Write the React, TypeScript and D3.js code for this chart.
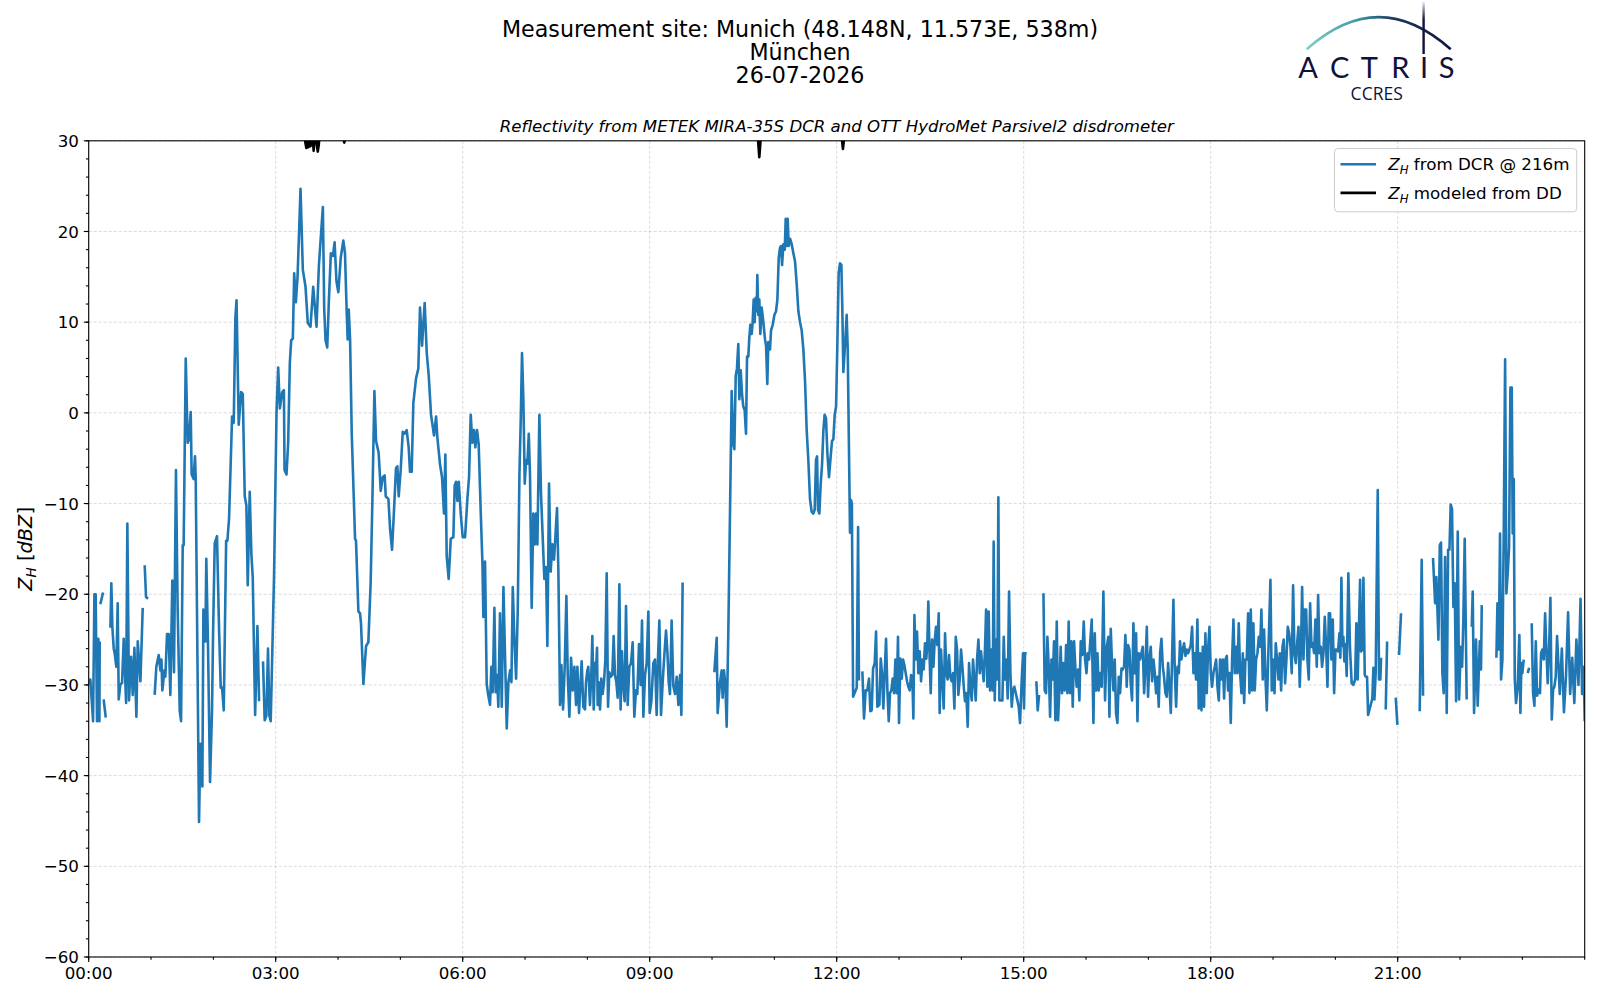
import React from "react";
import * as d3 from "d3";

// ---- DCR reflectivity (minutes after 00:00 UTC, dBZ); null = missing sample ----
const dcrMinutes: number[] = [
  0, 1.6, 4.2, 5.5, 6.7, 8, 9.3, 10.3, 10.6, 10.9,
  11.2, 13.8, 14.1, 14.4, 16.4, 18, 20.9, 21.8, 22.8, 24.1,
  25, 26.6, 27.9, 28.9, 30.5, 32.1, 33.7, 36, 37.2, 38.8,
  40.8, 42.4, 44, 45.9, 47.2, 49.8, 52, 53, 53.9, 55.2,
  57.1, 60, 63.5, 65.1, 67.4, 69, 70, 70.9, 72.9, 73.8,
  75.4, 77, 78.6, 80.5, 82.1, 84, 85.6, 87.6, 88.9, 90.5,
  91.4, 93.4, 95.3, 96.6, 98.2, 99.1, 101, 102.3, 103, 106.2,
  107.5, 109.4, 110.4, 111.3, 112.3, 113.2, 114.8, 116.8, 118.7, 119.7,
  121.3, 123.5, 125.5, 127.1, 128.4, 130, 132.3, 133.5, 135.1, 138,
  139.6, 141.2, 142.3, 144.4, 146.7, 148.3, 150.2, 151.8, 153.1, 155,
  156.6, 157.9, 160.2, 162.4, 164, 166, 167.8, 169.4, 171, 172.6,
  173.9, 175.2, 178.4, 180.8, 182.4, 184, 186.3, 187.9, 188.5, 190.4,
  192, 193.6, 194.9, 196.5, 197.8, 199.4, 201, 203.9, 206.1, 208.7,
  210.9, 213.5, 216.1, 219.3, 221.6, 225.4, 226.7, 228, 229.6, 231.2,
  233.1, 235.1, 236.7, 238.5, 240.3, 242.6, 245.1, 246.7, 248.3, 249.3,
  250.3, 251.6, 253.2, 256.4, 257.3, 259.6, 261.2, 262.1, 264.4, 267,
  269.2, 271.4, 273.1, 275, 276.6, 279.1, 281.1, 283, 284.9, 285.9,
  288.5, 290.1, 292, 293.9, 295.8, 297.1, 298.4, 300.3, 302.3, 303.9,
  306.1, 308, 309.3, 310.9, 312.5, 315.1, 317.3, 318.9, 320.9, 322.2,
  323.4, 325.4, 327.3, 329.5, 332.4, 334.4, 335.6, 338.2, 340.1, 342,
  343.3, 344.6, 346.5, 348.5, 351, 352.3, 353.6, 354.9, 356.2, 358.1,
  360, 362.3, 364.5, 366.1, 367.7, 369.3, 370.9, 372.2, 373.8, 375.4,
  377.4, 379, 379.9, 381.5, 383.1, 384.7, 386.3, 387.6, 388.9, 390.5,
  391.8, 393.1, 394.3, 395.9, 397.6, 399.2, 400.8, 402.4, 404, 405.6,
  406.9, 408.2, 409.8, 411.4, 413, 414.6, 415.9, 417.1, 418.4, 419.7,
  421, 422.3, 423.6, 424.8, 426.4, 428, 429.3, 430.6, 431.9, 433.8,
  435.4, 437, 438.6, 440.2, 441.5, 443.1, 444.7, 446.3, 447.9, 449.2,
  450.8, 452.1, 453.7, 455, 456.6, 458.2, 459.8, 461.1, 462.7, 464.3,
  465.9, 467.5, 469.1, 470.4, 472, 474.5, 476.1, 477.7, 478.7, 480,
  480.9, 482.5, 483.8, 484.8, 486.1, 487.3, 488.3, 489.3, 489.9, 490.9,
  492.2, 493.4, 494.7, 496, 497.3, 498.6, 499.9, 501.1, 502.4, 504,
  505.3, 506.6, 507.9, 509.2, 510.8, 512, 513.3, 514.6, 515.9, 517.2,
  518.8, 520.4, 522, 523.6, 525.2, 526.8, 528.1, 529.7, 531.3, 532.6,
  533.9, 535.5, 537.1, 538.7, 540, 541.6, 543.5, 545.1, 546.7, 548,
  549.3, 550.9, 552.5, 554.1, 555.7, 557, 558.3, 559.5, 561.1, 562.7,
  564.4, 566, 567.6, 569.2, 570.5, 571.7, 573, 602.2, 604.5, 605.4,
  607.7, 609.3, 610.2, 611.5, 612.8, 614.1, 615.7, 617.3, 618.9, 620.5,
  621.5, 622.8, 624, 625.3, 626.3, 627.6, 628.9, 630.1, 631.4, 632.7,
  633.7, 634.9, 635.9, 636.9, 638.2, 639.1, 640.1, 641, 642, 643,
  643.6, 644.6, 645.5, 646.5, 647.8, 649.4, 651, 652, 653.2, 654.2,
  655.8, 656.8, 658.4, 660, 661.6, 662.9, 664.2, 665.4, 666.4, 667.4,
  668.7, 670, 670.9, 671.9, 672.8, 673.8, 675.1, 676.7, 678.3, 679.9,
  681.5, 683.1, 684.7, 686.3, 687.9, 689.5, 691.1, 692.7, 694.3, 695.9,
  697.5, 698.8, 700.1, 701.1, 702, 703.3, 704.6, 705.9, 707.2, 708.4,
  709.7, 711, 712.6, 714.2, 715.5, 716.8, 718.1, 719.4, 720.6, 721.9,
  723.2, 724.5, 725.4, 726.4, 728, 729.6, 730.6, 731.9, 732.8, 733.8,
  734.6, 735.8, 737.5, 739.3, 740.6, 741.4, 742.5, 744.7, 746.3, 747.9,
  749.5, 751.1, 752.4, 753.7, 755, 756.6, 757.9, 759.1, 761.1, 762.4,
  763.6, 764.9, 766.2, 767.5, 768.8, 770.1, 771.3, 772.6, 773.9, 775.2,
  776.5, 777.8, 779, 780, 781.3, 782.6, 783.9, 785.1, 786.4, 787.7,
  789, 790.3, 791.6, 792.8, 793.8, 794.8, 796, 797.3, 798.6, 799.9,
  801.2, 802.5, 803.7, 805, 806.3, 807.3, 808.2, 809.5, 810.5, 811.8,
  813.1, 814.3, 815.6, 816.9, 818.2, 819.1, 820.4, 821.7, 823, 824.3,
  825.6, 826.8, 828.1, 829.4, 830.7, 832, 833.3, 834.6, 835.8, 837.1,
  838.4, 839.7, 841, 842.3, 843.5, 844.8, 846.1, 847.4, 848.7, 850,
  851.2, 852.5, 853.8, 855.1, 856.4, 857.7, 858.9, 860.2, 861.5, 862.8,
  863.8, 865, 866.3, 867.6, 868.9, 870.2, 871.1, 872.1, 873.4, 874.7,
  875.6, 876.6, 878.2, 879.5, 880.8, 882, 883.3, 884.6, 885.9, 887.2,
  888.5, 889.7, 891, 892.3, 893.9, 895.2, 896.5, 898.1, 899.4, 900.3,
  901.3, 902.9, 906, 912.2, 913.5, 914.8, 917, 919, 920.2, 921.5,
  922.8, 924.1, 925.4, 926.7, 928, 929.2, 930.5, 931.8, 933.1, 934.4,
  935.6, 936.9, 938.2, 939.5, 940.8, 942.1, 943.3, 944.6, 945.9, 947.2,
  948.5, 949.8, 951, 952.3, 953.6, 954.9, 956.5, 957.8, 959.1, 960.4,
  961.6, 962.9, 965.5, 967.1, 968.4, 969.7, 971, 972.2, 973.5, 975.1,
  976.7, 978.3, 979.9, 981.5, 982.5, 983.8, 985.1, 986.4, 987.6, 988.9,
  990.2, 991.5, 992.8, 994.1, 995.3, 996.6, 997.9, 999.2, 1000.5, 1001.8,
  1003, 1004.3, 1005.6, 1006.9, 1008.2, 1009.5, 1010.7, 1012, 1013.3, 1014.6,
  1015.9, 1017.2, 1018.5, 1019.7, 1021, 1022.3, 1023.6, 1024.9, 1026.2, 1027.4,
  1028.7, 1030, 1031.3, 1032.6, 1033.9, 1035.1, 1036.4, 1037.7, 1039, 1040.3,
  1041.6, 1042.8, 1044.1, 1045.4, 1046.7, 1048, 1049.3, 1050.5, 1051.8, 1053.1,
  1054.4, 1055.7, 1057, 1058.2, 1059.5, 1060.8, 1062.1, 1063.4, 1064.7, 1065.9,
  1067.2, 1068.5, 1069.8, 1071.1, 1072.4, 1073.6, 1074.9, 1076.2, 1077.5, 1078.8,
  1080.1, 1081.3, 1082.6, 1083.9, 1085.2, 1086.5, 1087.8, 1089, 1090.3, 1091.6,
  1092.9, 1094.2, 1095.5, 1096.7, 1098, 1099.3, 1100.6, 1101.9, 1103.2, 1104.4,
  1105.7, 1107, 1108.3, 1109.6, 1110.9, 1112.2, 1113.4, 1114.7, 1116, 1117.3,
  1118.6, 1119.9, 1121.1, 1122.4, 1123.7, 1125, 1126.3, 1127.6, 1128.8, 1130.1,
  1131.4, 1132.7, 1134, 1135.3, 1136.5, 1137.5, 1138.8, 1140.1, 1141.4, 1142.6,
  1143.9, 1145.2, 1146.5, 1147.8, 1149.1, 1150.3, 1151.6, 1152.9, 1154.2, 1155.5,
  1156.8, 1158, 1159.3, 1160.6, 1161.9, 1163.2, 1164.5, 1165.7, 1167, 1168,
  1169.3, 1170.6, 1171.9, 1173.1, 1174.4, 1175.7, 1177, 1178.3, 1179.5, 1180.8,
  1182.1, 1183.4, 1184.7, 1186, 1187.2, 1188.5, 1189.8, 1191.1, 1192.4, 1193.7,
  1194.9, 1196.2, 1197.5, 1198.8, 1200.1, 1201.4, 1202.6, 1203.9, 1204.8, 1205.8,
  1206.8, 1207.7, 1208.7, 1209.6, 1210.9, 1212.5, 1214.1, 1215.7, 1217.3, 1219,
  1220.2, 1221.5, 1222.8, 1223.8, 1224.7, 1226, 1227, 1228.3, 1229.2, 1230.5,
  1231.5, 1235.6, 1236.6, 1237.6, 1238.8, 1240.8, 1242, 1243.3, 1244, 1245,
  1248.5, 1249.8, 1251, 1258.1, 1259.7, 1260.5, 1261.3, 1263.2, 1265, 1281.2,
  1283.1, 1284.4, 1286, 1294, 1296, 1297.2, 1299.2, 1300.5, 1301.7, 1303,
  1304.3, 1305.6, 1307.2, 1308.5, 1309.8, 1311, 1312.3, 1313.6, 1314.9, 1316.2,
  1317.8, 1319.1, 1320.7, 1322, 1323.2, 1324.5, 1326.4, 1328, 1331.3, 1332.2,
  1333.5, 1335.4, 1337, 1339, 1340.2, 1340.9, 1342, 1355, 1356, 1357.3,
  1358.5, 1359.5, 1360.8, 1362.1, 1363.4, 1364.6, 1365.9, 1367.2, 1368.5, 1369.8,
  1370.7, 1371.7, 1372.7, 1373.9, 1375.5, 1377.1, 1378.1, 1379.1, 1380, 1381.3,
  1383, 1385.2, 1386.5, 1387.5, 1389, 1390.3, 1391.6, 1392.9, 1394.2, 1395.4,
  1397, 1398, 1399.3, 1400.6, 1401.9, 1403.1, 1404.4, 1405.7, 1407, 1408.3,
  1409.6, 1410.8, 1412.1, 1413.4, 1414.8, 1416, 1418, 1420, 1422, 1424,
  1426, 1428, 1430, 1432, 1434, 1436, 1437.5, 1439, 1440,
];

const dcrDbz: (number | null)[] = [
  -29.9, -29.4, -34, -20, -20, -34, -24.9, -34, -25.2, null,
  -21.1, -19.8, null, -31.6, -33.6, null, -23.7, -18.8, -23.7, -26,
  -26.5, -28, -21, -31.6, -29.9, -29.8, -24.9, -32, -12.2, -31.7,
  -26.9, -31.1, -25.9, -33.5, -25.2, -29.6, -21.5, null, -16.8, -20.3,
  -20.5, null, -31.1, -28, -26.7, -28.4, -27.2, -30.6, -28.4, -29.1,
  -24.4, -24.4, -31.1, -18.5, -28.6, -6.3, -21.5, -32.8, -34, -14.6,
  -14.6, 6, -3.3, -2.8, 0.1, -6.8, -7.3, -4.8, -7.2, -45.1,
  -36.5, -41.2, -21.7, -22, -25.2, -16.1, -25.4, -40.7, -32.8, -24.4,
  -14.4, -13.6, -24, -30.3, -30.3, -32.8, -14.1, -14.1, -11.7, -0.4,
  -1.1, 10.5, 12.4, -1.3, 2.3, 2.1, -9.2, -10.2, -19, -8.7,
  -15.6, -18.1, -33.3, -23.5, -31.8, null, -27.4, -33.9, -33.4, -26,
  -33.4, -34, -18, 0.1, 5, 0.5, 2.3, 2.5, -6.3, -6.8,
  -3.3, 5.5, 8, 8.2, 15.4, 12.2, 14.9, 24.7, 15.8, 13.9,
  9.9, 9.5, 13.9, 9.5, 16.3, 22.7, 11.4, 8, 7.2, 12.4,
  17.6, 17.3, 18.8, 14.5, 13.3, 17.1, 19, 17.6, 11.2, 8.1,
  11.4, 8.1, -2.3, -13.9, -14.1, -21.9, -22.1, -23.2, -29.9, -25.7,
  -25.3, -18.7, -9.5, 2.4, -3.1, -4.4, -8.6, -7.1, -6.9, -9.2,
  -9.5, -12.8, -15.1, -10.7, -6.1, -5.9, -9.2, -6.3, -2.1, -2.3,
  -1.9, -3.8, -6.5, -6.5, 1.1, 3.8, 4.9, 11.6, 7.4, 10,
  12.1, 6.6, 4.1, -0.2, -2.5, -0.4, -2.7, -5.7, -7.1, -11.1,
  -4.6, -15.8, -18.3, -13.9, -13.7, -8, -7.6, -9.7, -7.6, -11.1,
  -13.7, -13.7, -9.5, -7.1, -0.2, -3.3, -1.9, -3.8, -1.9, -3.5,
  -11.1, -16.6, -22.5, -16.4, -29.9, -31.2, -32.2, -28, -30.8, -21.5,
  -30.8, -28.9, -32.4, -22.1, -32.4, -19.2, -27, -34.8, -29.7, -28.4,
  -29.7, -19.2, -25.1, -29.3, -21.7, -6.9, -0.6, 6.6, 1.5, -7.8,
  -5.2, -5.6, -2.3, -6.9, -21.5, -11.1, -14.5, -11.1, -14.5, -0.2,
  -9, -13.7, -18.3, -17, -25.7, -7.8, -17.5, -14.5, -16.2, -13.7,
  -10.5, -17.5, -32.2, -27.8, -32.7, -28, -20.2, -28.9, -33.5, -27,
  -30.6, -28, -32.2, -28, -33.1, -27.4, -32.4, -32.7, -29.7, -28.4,
  -28, -32.2, -28.9, -24.6, -32.7, -27.6, -28.4, -25.9, -32.2, -29.7,
  -32.7, -29.3, -31, -29.7, -27.2, -17.7, -32.4, -28.6, -29.1, -28.9,
  -24.6, -28.9, -29.7, -31.4, -18.9, -32.7, -26.3, -30.1, -31.8, -21.3,
  -32.2, -28, -27.6, -25.3, -33.5, -30.6, -31, -25.5, -30, -22.9,
  -33.5, -28.9, -27.6, -21.9, -33.1, -31.8, -27.6, -27.2, -33.3, -27,
  -22.9, -33.3, -29.7, -26.7, -24, -26.3, -29.7, -31, -22.9, -30.1,
  -31, -29.1, -32.2, -28.9, -33.3, -18.7, null, -28.6, -24.8, -33.1,
  -29.7, -28.4, -31.4, -28.4, -29.9, -34.6, -24, -11, 2.4, -3.5,
  -4, 4.1, 4.9, 7.6, 1.5, 4.7, 2, 0.7, 0.3, -2.3,
  6.2, 6.2, 8.3, 9.7, 8.7, 10, 12.5, 10, 12.7, 11.2,
  15.2, 10.8, 12.5, 8.7, 11.6, 10, 8.1, 7.4, 3.2, 7.8,
  7, 9.1, 9.7, 10.8, 11.2, 12.5, 17.1, 18.2, 18.4, 16.3,
  18.6, 18, 21.4, 18.4, 21.4, 18.4, 19.2, 18.6, 17.6, 16.7,
  14.2, 11.2, 10, 9.1, 7, 3.6, -1.9, -5.2, -9.5, -10.9,
  -11.1, -10.7, -5.2, -4.8, -10.7, -11.1, -7.8, -5.7, -1.9, -0.2,
  -0.6, -4.4, -7.1, -4.8, -3.1, -2.9, -0.2, 0.7, 7.4, 15.4,
  16.5, 16.3, 11.6, 4.5, 7.4, 10.8, 7, -4.8, -13.2, -9.6,
  -10, -31.3, -30.8, -30.3, -12.6, -29.5, null, -28.5, -33.7, -30.6,
  -30.6, -29.3, -32.9, -32.8, -28.2, -27.6, -24.1, -32.4, -32.2, -27.1,
  -28.7, -32.6, -28.7, -24.9, -30.6, -34, -30.9, -30.6, -29.3, -30.9,
  -27.2, -30.9, -24.7, -34.2, -27.1, -29.3, -27.2, -27.8, -28.7, -29.6,
  -30.2, -30.6, -28.9, -29.1, -33.7, -22.3, -27.2, -24.1, -28.7, -26.3,
  -29.6, -27.2, -28.3, -25.4, -27.1, -25.2, -20.8, -27.2, -30.9, -25,
  -28, -25.2, -23.6, -25.6, -22.1, -33.1, -26.1, -29.4, -32.6, -24.3,
  -28.7, -29.4, -26.7, -29.1, -29.6, -28.7, -32.6, -24.7, -26, -31.1,
  -29.4, -26.1, -28, -30.2, -31.8, -30.9, -34.6, -27.6, -30.4, -31.7,
  -27.2, -29.4, -31.7, -27.2, -25, -28.7, -26.3, -28, -29.6, -25.8,
  -21.7, -30.2, -21.9, -30.6, -26.1, -30.6, -14.2, -31.7, -25, -29.4,
  -9.3, -31.7, -31.7, -31.7, -24.7, -29.4, -27.2, -31.5, -19.7, -28.7,
  -32.4, -30.6, -30.2, -30.9, -31.7, -32.4, -34.2, -29.4, -26.5, -32.6,
  -26.5, -26.5, null, -29.6, -32.8, -31.1, null, -19.9, -30.6, -30.9,
  -24.7, -28, -33.5, -27.2, -29.4, -25.2, -33.9, -23, -33.9, -30.2,
  -25.8, -30.9, -27.6, -30.6, -25.6, -30.9, -23, -30.9, -25.2, -32.4,
  -25.2, -28.3, -30.2, -28.3, -31.7, -25.2, -26.7, -23, -27.2, -28.7,
  -26.5, -27.2, -22.8, -34.2, -24.3, -30.6, -26.5, -30.6, -28.7, -30.2,
  -19.7, -31.7, -25.8, -24.7, -33.5, -23.8, -28, -30.6, -27.2, -33.1,
  -34.2, -29.1, -30.9, -28.2, -28.3, -28, -24.5, -30.2, -25.6, -26.1,
  -29.8, -31.7, -23.2, -28.7, -24.3, -34, -26.5, -27.2, -26.5, -25.8,
  -30.9, -28, -23.6, -31.3, -27.2, -25.8, -29.6, -27.2, -28.7, -30.9,
  -29.1, -32.4, -26.5, -24.9, -28, -29.1, -30.9, -31.3, -27.6, -30.2,
  -33.1, -27.2, -20.6, -28.3, -32.4, -28, -28.7, -25.2, -27.2, -26.1,
  -25.4, -26.8, -26.1, -26.5, -26.1, -25.6, -23.6, -28.7, -26.5, -29.4,
  -22.8, -32.6, -26.5, -32.8, -25.8, -32.4, -24.3, -30.9, -26.1, -23.6,
  -28.7, -30.2, -28.7, -28, -27.2, -30.2, -31.7, -27.2, -29.4, -27.2,
  -31.5, -27.2, -26.8, -30.6, -28.7, -34.2, -27.2, -22.8, -28.7, -25.8,
  -28.7, -23.2, -28.7, -30.9, -26.5, -32, -27.2, -27.2, -22.1, -30.9,
  -21.7, -30.6, -23.2, -30.6, -27.2, -26.5, -24.7, -25.8, -21.7, -29.4,
  -23.9, -29.1, -32.8, -27.2, -22.5, -18.4, -30.6, -27.2, -30.9, -25.4,
  -27.2, -29.4, -26.5, -30.6, -25.8, -25, -29.8, -27.2, -23.6, -24.3,
  -25.8, -28.7, -19, -26.5, -27.6, -25.4, -23.6, -30.2, -25.4, -19.2,
  -27.2, -21.7, -21.7, -27.2, -29.4, -21, -25.8, -25.4, -26.5, -22.8,
  -28, -20.1, -26.5, -25.8, -28, -26.5, -22.5, -25.8, -30.2, -22.1,
  -22.1, -27.2, -22.8, -30.9, -26.1, -26.1, -26.3, -24.3, -27, -18.2,
  -25.7, -24.7, -27.4, -25.5, -29, -17.7, -26, -29.8, -30, -29.4,
  -23.2, -29.4, -23.2, -18.4, -26.3, -26.1, -18.2, -28.9, -29.1, -29.1,
  -33.3, -31.5, -28.1, -31.6, -28.7, -8.5, -29.4, -29.4, -27, null,
  -32.7, -25.2, null, -31.4, -34.4, null, -26.7, -22.1, null, -32.9,
  -16.2, -31.2, null, -16, -21, -18.1, -25, -14.6, -14.3, -28.7,
  -30.9, -15.9, -33.1, -15.1, -15.1, -10.1, -10.6, -21.4, -18.8, -31.8,
  -13.1, -31.6, -25.8, -28, -22.8, -13.9, -31.6, null, -23.6, -19.7,
  -33.1, -25, -32.3, -25.2, -28.3, -21.2, null, -27, -21, -26.1,
  -13.3, -29.4, -27.2, -12.9, 5.9, -19.9, -17.7, -14.8, 2.8, 2.8,
  -13.3, -7.3, -29.4, -32, -30.2, -24.5, -33.1, -27.6, -28.7, -27.2,
  null, -28.7, -28.1, null, -23.2, -30.9, -32.3, -25.2, -31.2, -30.5,
  -30.9, -26.5, -26.1, -27.2, -22.1, -26.1, -29.8, -26.1, -20.4, -33.8,
  -30.5, -30.2, -29.1, -24.6, -28, -31, -26, -33, -29, -22,
  -31, -27, -32, -25, -30, -20.5, -31, -28, -34,
];

// ---- Disdrometer-modelled reflectivity (mostly above the 30 dBZ axis limit) ----
const ddMinutes: number[] = [
  200, 206, 209.5, 210.5, 211.5, 212.5, 213.5, 215.5, 216.5, 218,
  220.5, 221.5, 223, 232, 244, 245.5, 246, 246.5, 248, 300,
  450, 600, 640, 644, 645.5, 647, 650, 680, 715, 723,
  725, 726, 727, 729, 740,
];
const ddDbz: number[] = [
  37, 31.5, 29.2, 30.4, 29.3, 30.5, 29.4, 31, 28.9, 31,
  28.8, 29.6, 32, 38, 32, 30.1, 29.8, 30.1, 33, 40,
  42, 38, 34, 30.5, 28.2, 30.5, 35, 38, 36, 32,
  30.2, 29.1, 30.2, 33, 37,
];

const xMajorHours = [0, 3, 6, 9, 12, 15, 18, 21];
const xTickLabels = ["00:00", "03:00", "06:00", "09:00", "12:00", "15:00", "18:00", "21:00"];
const xMinorHours = d3.range(0, 25, 1);
const yMajorTicks = [-60, -50, -40, -30, -20, -10, 0, 10, 20, 30];
const yMinorTicks = d3.range(-60, 31, 2);
const titleLines = [
  "Measurement site: Munich (48.148N, 11.573E, 538m)",
  "München",
  "26-07-2026",
];
const subtitle = "Reflectivity from METEK MIRA-35S DCR and OTT HydroMet Parsivel2 disdrometer";
const legendLabels = [" from DCR @ 216m", " modeled from DD"];
const logoLetters = ["A", "C", "T", "R", "I", "S"];
const logoLetterX = [1308, 1339.7, 1369.3, 1400.3, 1424, 1446.7];

const FONT = "'DejaVu Sans', sans-serif";
const BLUE = "#1f77b4";
const NAVY = "#10123a";

export default function App() {
  const W = 1600, H = 1000;
  const L = 88.7, R = 1584.7, T = 140.8, B = 957;
  const x = d3.scaleLinear().domain([0, 1440]).range([L, R]);
  const y = d3.scaleLinear().domain([-60, 30]).range([B, T]);

  const dcrIdx = d3.range(Math.min(dcrMinutes.length, dcrDbz.length));
  const dcrPath = d3
    .line<number>()
    .defined((i) => dcrDbz[i] != null)
    .x((i) => x(dcrMinutes[i]))
    .y((i) => y(dcrDbz[i] as number))(dcrIdx);
  const ddIdx = d3.range(Math.min(ddMinutes.length, ddDbz.length));
  const ddPath = d3
    .line<number>()
    .x((i) => x(ddMinutes[i]))
    .y((i) => y(ddDbz[i]))(ddIdx);

  const tickFs = 16.7;
  const fmt = (v: number) => (v < 0 ? "\u2212" + Math.abs(v) : String(v));

  const legX = 1334.5, legY = 148.5, legW = 242.2, legH = 63.3;
  const rowY = [164.3, 192.9];

  return (
    <svg
      width={W}
      height={H}
      viewBox={`0 0 ${W} ${H}`}
      style={{ position: "absolute", left: 0, top: 0, background: "#fff" }}
      fontFamily={FONT}
    >
      <defs>
        <clipPath id="plotClip">
          <rect x={L} y={T} width={R - L} height={B - T} />
        </clipPath>
        <linearGradient id="arcGrad" gradientUnits="userSpaceOnUse" x1="1306" x2="1451" y1="0" y2="0">
          <stop offset="0%" stopColor="#7fd0c8" />
          <stop offset="35%" stopColor="#3f9aa6" />
          <stop offset="60%" stopColor="#1b3a5e" />
          <stop offset="100%" stopColor={NAVY} />
        </linearGradient>
        <linearGradient id="vGrad" gradientUnits="userSpaceOnUse" x1="0" x2="0" y1="1" y2="54">
          <stop offset="0%" stopColor={NAVY} stopOpacity="0.05" />
          <stop offset="35%" stopColor={NAVY} stopOpacity="1" />
          <stop offset="100%" stopColor={NAVY} stopOpacity="1" />
        </linearGradient>
      </defs>
      <rect x={0} y={0} width={W} height={H} fill="#fff" />

      {/* Titles */}
      {titleLines.map((t, i) => (
        <text key={t} x={800} y={36.5 + i * 23.3} fontSize={22.2} textAnchor="middle" fill="#000">
          {t}
        </text>
      ))}
      <text x={(L + R) / 2} y={132} fontSize={16.6} fontStyle="italic" textAnchor="middle" fill="#000">
        {subtitle}
      </text>

      {/* Logo */}
      <path d="M1306.7,49.3 Q1378.7,-15 1450.7,49.3" fill="none" stroke="url(#arcGrad)" strokeWidth={2.6} />
      <rect x={1422.4} y={1.5} width={2.4} height={52.5} fill="url(#vGrad)" />
      {logoLetters.map((c, i) => (
        <text key={i} x={logoLetterX[i]} y={78.3} fontSize={29} fontFamily="Lato, 'Open Sans', sans-serif" textAnchor="middle" fill={NAVY}>
          {c}
        </text>
      ))}
      <text x={1376.7} y={99.5} fontSize={17.5} fontFamily="'Open Sans', sans-serif" textAnchor="middle" fill={NAVY}>
        CCRES
      </text>

      {/* Grid */}
      <g stroke="#b0b0b0" strokeOpacity={0.6} strokeWidth={0.8} strokeDasharray="3,2">
        {yMajorTicks.map((v) => (
          <line key={"gy" + v} x1={L} x2={R} y1={y(v)} y2={y(v)} />
        ))}
        {xMajorHours.map((h) => (
          <line key={"gx" + h} x1={x(h * 60)} x2={x(h * 60)} y1={T} y2={B} />
        ))}
      </g>

      {/* Data */}
      <g clipPath="url(#plotClip)">
        <path d={dcrPath || ""} fill="none" stroke={BLUE} strokeWidth={2.6} strokeLinejoin="round" strokeLinecap="butt" />
        <path d={ddPath || ""} fill="none" stroke="#000" strokeWidth={2.6} strokeLinejoin="round" />
      </g>

      {/* Spines */}
      <rect x={L} y={T} width={R - L} height={B - T} fill="none" stroke="#000" strokeWidth={1.1} />

      {/* Ticks */}
      <g stroke="#000" strokeWidth={1.1}>
        {yMinorTicks.map((v) => (
          <line key={"ym" + v} x1={L - 2.8} x2={L} y1={y(v)} y2={y(v)} />
        ))}
        {yMajorTicks.map((v) => (
          <line key={"yM" + v} x1={L - 4.9} x2={L} y1={y(v)} y2={y(v)} />
        ))}
        {xMinorHours.map((h) => (
          <line key={"xm" + h} x1={x(h * 60)} x2={x(h * 60)} y1={B} y2={B + 2.8} />
        ))}
        {xMajorHours.map((h) => (
          <line key={"xM" + h} x1={x(h * 60)} x2={x(h * 60)} y1={B} y2={B + 4.9} />
        ))}
      </g>
      {yMajorTicks.map((v) => (
        <text key={"yl" + v} x={L - 9.8} y={y(v)} dy="0.36em" fontSize={tickFs} textAnchor="end" fill="#000">
          {fmt(v)}
        </text>
      ))}
      {xMajorHours.map((h, i) => (
        <text key={"xl" + h} x={x(h * 60)} y={B + 9.3} dy="0.76em" fontSize={tickFs} textAnchor="middle" fill="#000">
          {xTickLabels[i]}
        </text>
      ))}

      {/* Y label */}
      <text transform={`translate(31.5, ${(T + B) / 2}) rotate(-90)`} fontSize={19.4} textAnchor="middle" fill="#000">
        <tspan fontStyle="italic">Z</tspan>
        <tspan fontStyle="italic" fontSize={13.6} dy={4}>H</tspan>
        <tspan dy={-4}> [</tspan>
        <tspan fontStyle="italic">dBZ</tspan>
        <tspan>]</tspan>
      </text>

      {/* Legend */}
      <rect x={legX} y={legY} width={legW} height={legH} rx={3.5} fill="#fff" fillOpacity={0.8} stroke="#cccccc" strokeWidth={1} />
      {[BLUE, "#000"].map((c, i) => (
        <g key={"leg" + i}>
          <line x1={1340.5} x2={1376} y1={rowY[i]} y2={rowY[i]} stroke={c} strokeWidth={2.6} />
          <text x={1388.3} y={rowY[i] + 6} fontSize={16.7} fill="#000">
            <tspan fontStyle="italic">Z</tspan>
            <tspan fontStyle="italic" fontSize={11.7} dy={3.8}>H</tspan>
            <tspan dy={-3.8}>{legendLabels[i]}</tspan>
          </text>
        </g>
      ))}
    </svg>
  );
}
